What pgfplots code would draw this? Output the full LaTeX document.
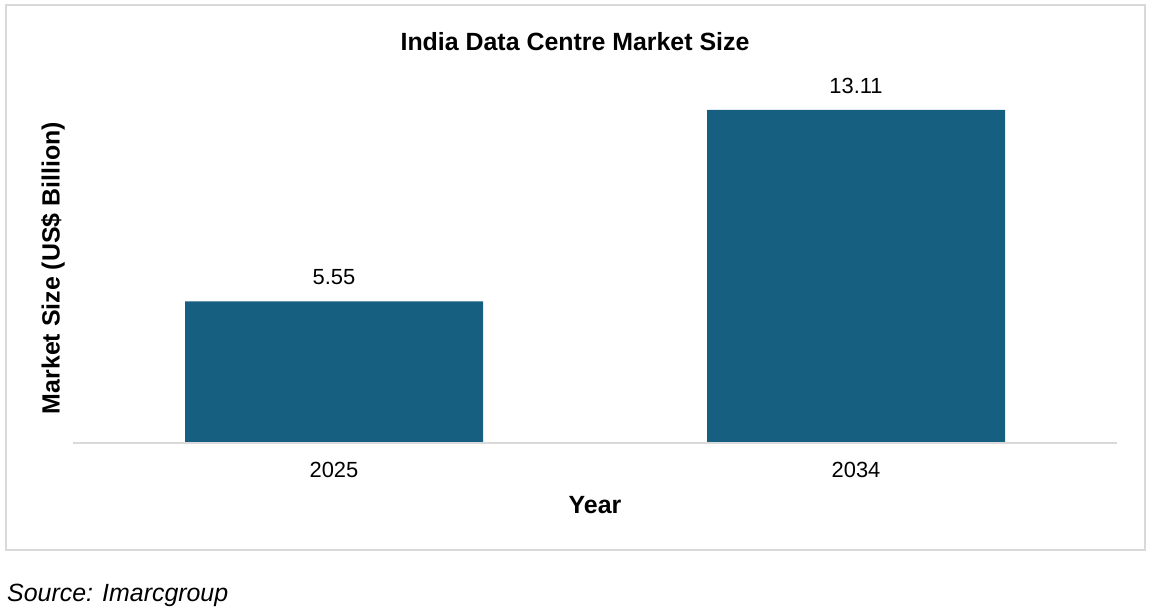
\documentclass[border=0pt]{standalone}
\usepackage{pgfplots}
\pgfplotsset{compat=1.18}
\usepackage{fontspec}
\setmainfont{Liberation Sans}
\definecolor{barblue}{RGB}{23,95,128}
\definecolor{framegray}{RGB}{217,217,217}
\begin{document}
\begin{tikzpicture}
\useasboundingbox (0bp,0bp) rectangle (1152bp,611bp);
\draw[framegray, line width=2bp] (6bp,61bp) rectangle (1145bp,606bp);
\begin{axis}[
  at={(73bp,169bp)}, anchor=south west,
  scale only axis, width=1044bp, height=380bp,
  xmin=-0.5, xmax=1.5, ymin=0, ymax=15,
  ybar, bar width=298bp, bar shift=0pt,
  axis line style={draw=none},
  xtick={0,1}, xticklabels={2025,2034},
  major tick length=0pt, ytick=\empty,
  xticklabel style={anchor=center, yshift=-28bp, font=\fontsize{22}{26}\selectfont},
  nodes near coords={\pgfmathprintnumber[fixed,fixed zerofill,precision=2,assume math mode=true]{\pgfplotspointmeta}},
  nodes near coords style={anchor=center, yshift=24bp, font=\fontsize{22}{26}\selectfont, text=black},
  clip=false,
]
\draw[framegray, line width=2bp, yshift=-1bp] (axis cs:-0.5,0) -- (axis cs:1.5,0);
\addplot[fill=barblue, draw=none] coordinates {(0,5.55) (1,13.11)};
\end{axis}
\node[font=\bfseries\fontsize{25}{30}\selectfont, anchor=center] at (575bp,569bp) {India Data Centre Market Size};
\node[font=\bfseries\fontsize{25}{30}\selectfont, anchor=center] at (595bp,106bp) {Year};
\node[font=\bfseries\fontsize{25}{30}\selectfont, anchor=center, rotate=90] at (53bp,343bp) {Market Size (US\$ Billion)};
\node[font=\itshape\fontsize{25}{30}\selectfont, anchor=west, inner sep=0pt] at (7bp,16bp) {Source: Imarcgroup};
\end{tikzpicture}
\end{document}
